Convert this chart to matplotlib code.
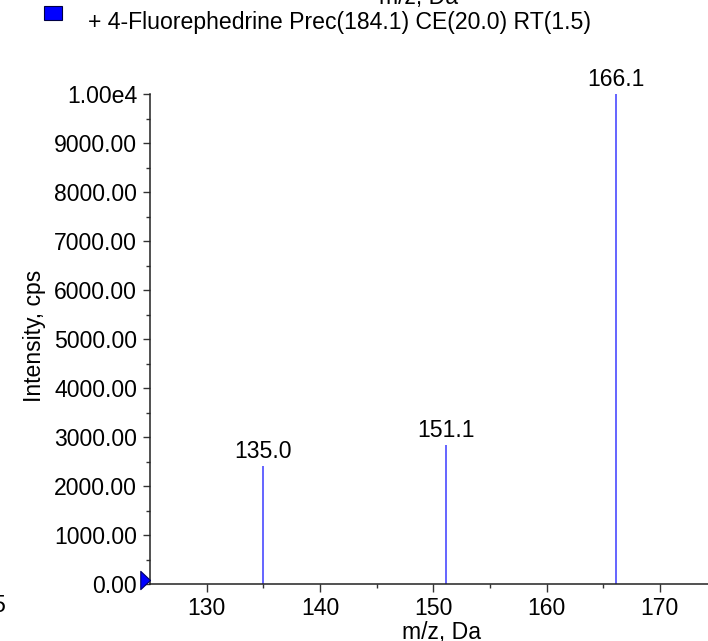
import matplotlib
matplotlib.use("Agg")
from matplotlib import pyplot as plt
from matplotlib.path import Path
from matplotlib import transforms
import numpy as np

# Spectrum data
peak_mz = [135.0, 151.1, 166.1]
peak_int = [2410, 2840, 10000]
peak_labels = ["135.0", "151.1", "166.1"]

y_ticks = [0, 1000, 2000, 3000, 4000, 5000, 6000, 7000, 8000, 9000, 10000]
y_tick_labels = ["0.00", "1000.00", "2000.00", "3000.00", "4000.00",
                 "5000.00", "6000.00", "7000.00", "8000.00", "9000.00",
                 "1.00e4"]
x_ticks = [130, 140, 150, 160, 170]

legend_text = "+ 4-Fluorephedrine Prec(184.1) CE(20.0) RT(1.5)"

plt.rcParams["font.family"] = ["Liberation Sans", "DejaVu Sans"]
fs = 16.6

W, H = 708, 641
fig = plt.figure(figsize=(W / 100, H / 100), dpi=100)

# Axes placed in pixel units
left, bottom, right, top = 150, 584, 708, 94
ax = fig.add_axes([left / W, 1 - bottom / H, (right - left) / W,
                   (bottom - top) / H])

# Draw the peaks as thin sticks
ax.vlines(peak_mz, 0, peak_int, color="#3a3aff", linewidth=1.1)

for mz, inten, lab in zip(peak_mz, peak_int, peak_labels):
    ax.annotate(lab, (mz, inten), xytext=(0, 2), textcoords="offset points",
                ha="center", va="bottom", fontsize=fs)

ax.set_xlim(125, 125 + (right - left) / 11.33)
ax.set_ylim(0, 10000)

ax.set_yticks(y_ticks)
ax.set_yticklabels(y_tick_labels)
ax.set_yticks(np.arange(500, 10000, 1000), minor=True)
ax.set_xticks(x_ticks)
ax.set_xticks([135, 145, 155, 165], minor=True)

# tick sizes are in points (1 px = 0.72 pt at 100 dpi)
ax.tick_params(axis="both", which="major", labelsize=fs, direction="out",
               width=1, color="#333333")
ax.tick_params(axis="both", which="minor", width=1, color="#333333")
ax.tick_params(axis="y", which="major", length=5, pad=4.3)
ax.tick_params(axis="y", which="minor", length=2.7)
ax.tick_params(axis="x", which="major", length=5.5, pad=3.6)
ax.tick_params(axis="x", which="minor", length=3.1)

for side in ["top", "right"]:
    ax.spines[side].set_visible(False)
for side in ["left", "bottom"]:
    ax.spines[side].set_linewidth(1.1)
    ax.spines[side].set_color("#222222")

# Precursor marker at the origin of the y axis
tri = Path([(-0.53, 0.5), (0, 0), (-0.53, -0.5), (-0.53, 0.5)],
           [Path.MOVETO, Path.LINETO, Path.LINETO, Path.CLOSEPOLY])
shifted = transforms.offset_copy(ax.transData, fig=fig, x=0, y=4,
                                 units="dots")
ax.plot([ax.get_xlim()[0]], [0], marker=tri, markersize=14,
        color="blue", markeredgecolor="#000066", markeredgewidth=0.8,
        clip_on=False, zorder=5, transform=shifted)

# Axis labels
fig.text(441 / W, 1 - 632 / H, "m/z, Da", ha="center", va="center",
         fontsize=fs)
fig.text(34 / W, 1 - 336 / H, "Intensity, cps", ha="center", va="center",
         rotation=90, fontsize=fs)

# Legend entry at the top
fig.patches.append(plt.Rectangle((44 / W, 1 - 20 / H), 18 / W, 14 / H,
                                 transform=fig.transFigure,
                                 facecolor="blue", edgecolor="#000044",
                                 linewidth=0.8))
fig.text(88 / W, 1 - 23 / H, legend_text, ha="left", va="center",
         fontsize=fs)

# Cut-off pieces of neighbouring panels
fig.text(418 / W, 1 - 4 / H, "m/z, Da", ha="center", va="baseline",
         fontsize=fs)
fig.text(5 / W, 1 - 605 / H, "5", ha="right", va="center", fontsize=fs)

fig.savefig("out.png", dpi=100)
